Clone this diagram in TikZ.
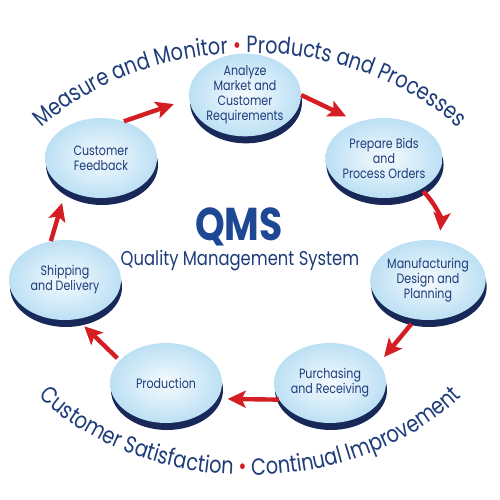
\documentclass[tikz,border=0pt]{standalone}
\usepackage{fontspec}
\setmainfont{Poppins}[FakeStretch=0.82]
\usetikzlibrary{shapes.geometric,shadows,arrows.meta,decorations.text}
\definecolor{qblue}{RGB}{30,60,122}
\definecolor{qqms}{RGB}{30,72,148}
\definecolor{qred}{RGB}{212,30,36}
\definecolor{qnavy}{RGB}{24,40,88}
\definecolor{qinner}{RGB}{246,251,254}
\definecolor{qouter}{RGB}{188,224,244}
\newcommand\qnodefont{\fontsize{13.5}{15}\selectfont}
\newcommand\qarcblue{\fontsize{23.5}{26}\selectfont\color{qblue}}
\newcommand\qarcred{\fontsize{23.5}{26}\selectfont\color{qred}}
\tikzset{
  qnode/.style={ellipse, minimum width=112pt, minimum height=80pt, inner sep=0pt,
    inner color=qinner, outer color=qouter, text=qblue, font=\qnodefont, align=center,
    general shadow={fill=qnavy, shadow yshift=-7pt, shadow xshift=1pt}},
  qarrow/.style={draw=qred, line width=4.4pt, -{Stealth[length=18pt,width=17pt,inset=4pt]}}
}
\begin{document}
\begin{tikzpicture}[x=1pt,y=-1pt]
\useasboundingbox[fill=white] (0,0) rectangle (500,500);
% curved texts
\path[decorate, decoration={text along path, text align=center,
  text={|\qarcblue|Measure and Monitor |\qarcred|•|\qarcblue| Products and Processes}}]
  (250,264) ++(-165:272 and 211) arc[start angle=-165, end angle=-15, x radius=272, y radius=211];
\path[decorate, decoration={text along path, text align=center,
  text={|\qarcblue|Customer Satisfaction |\qarcred|•|\qarcblue| Continual Improvement}}]
  (250,264) ++(165:272 and 211) arc[start angle=165, end angle=15, x radius=272, y radius=211];
% nodes
\node[qnode] (ana) at (245,95) {Analyze\\Market and\\Customer\\Requirements};
\node[qnode] (bid) at (384,158) {Prepare Bids\\and\\Process Orders};
\node[qnode] (man) at (428,280) {Manufacturing\\Design and\\Planning};
\node[qnode] (pur) at (330,383) {Purchasing\\and Receiving};
\node[qnode] (pro) at (166,383) {Production};
\node[qnode] (shi) at (65,280) {Shipping\\and Delivery};
\node[qnode] (fee) at (101,158) {Customer\\Feedback};
% centre
\node[anchor=base, text=qqms, font=\fontsize{46}{50}\selectfont\bfseries] (qms) at (239,240) {QMS};
\node[anchor=base, text=qblue, font=\fontsize{20}{24}\selectfont] (qsub) at (240,265) {Quality Management System};
% arrows
\draw[qarrow, shorten >=13pt] (ana.0) -- (bid.126);
\draw[qarrow, shorten >=10pt, shorten <=3pt] (bid.-40) to[bend left=25] (man.74);
\draw[qarrow, shorten >=8pt, shorten <=6pt] (man.-108) -- (pur.22);
\draw[qarrow, shorten >=10pt] (pur.198) -- (pro.-17);
\draw[qarrow, shorten >=10pt, shorten <=3pt] (pro.154) -- (shi.-73);
\draw[qarrow, shorten >=14pt] (shi.110) -- (fee.222);
\draw[qarrow, shorten >=16pt] (fee.58) -- (ana.184);
\end{tikzpicture}
\end{document}
